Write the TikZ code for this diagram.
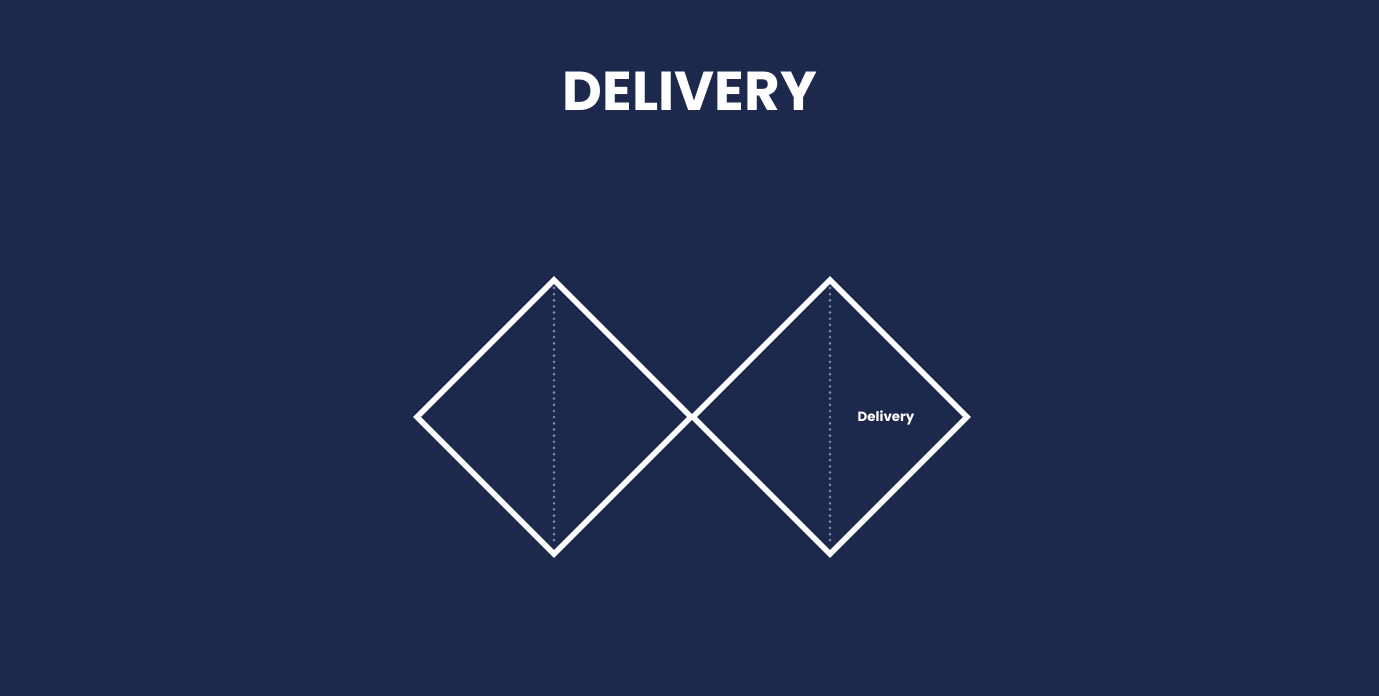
\documentclass[tikz,border=0pt]{standalone}
\usepackage{fontspec}
\setmainfont{Poppins}
\usetikzlibrary{shapes.geometric}
\definecolor{navyd}{RGB}{29,41,76}
\definecolor{dotd}{RGB}{122,136,170}

\begin{document}
\begin{tikzpicture}
                    \fill[navyd] (0,0) rectangle (13.79,6.96);
                    \useasboundingbox (0,0) rectangle (13.79,6.96);
                    \tikzset{rhomb/.style = {draw = white, line width = 1.6pt, diamond, aspect = 1, inner sep = 0pt, outer sep = 0pt, minimum width = 2.74cm, minimum height = 2.74cm}}
                    \node[font = \bfseries\fontsize{15.6}{18}\selectfont, text = white] (title) at (6.9,6.05) {DELIVERY};
                    \node[rhomb] (left) at (5.54,2.79) {};
                    \node[rhomb] (right) at (8.30,2.79) {};
                    \draw[dotd, line width = 0.85pt, line cap = round, dash pattern = on 0pt off 1.75pt] ([yshift=-0.08cm]left.north) to ([yshift=0.08cm]left.south);
                    \draw[dotd, line width = 0.85pt, line cap = round, dash pattern = on 0pt off 1.75pt] ([yshift=-0.08cm]right.north) to ([yshift=0.08cm]right.south);
                    \node[font = \bfseries\fontsize{3.8}{5}\selectfont, text = white] (tag) at (8.86,2.78) {Delivery};
                \end{tikzpicture}
\end{document}
